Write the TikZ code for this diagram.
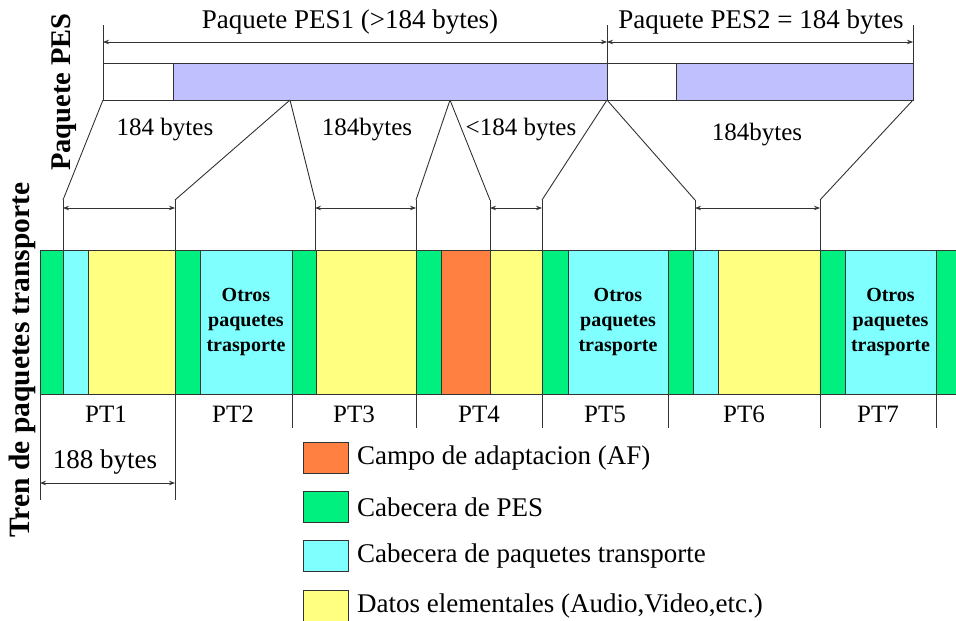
\documentclass[tikz,border=0pt]{standalone}
\usepackage{fontspec}
\setmainfont{Liberation Serif}
\usetikzlibrary{arrows.meta}
\definecolor{linec}{HTML}{333333}
\definecolor{pesc}{HTML}{C0C0FF}
\definecolor{grn}{HTML}{00F080}
\definecolor{cyn}{HTML}{80FFFF}
\definecolor{yel}{HTML}{FFFF80}
\definecolor{org}{HTML}{FF8040}
\begin{document}
\begin{tikzpicture}[x=1pt,y=-1pt,
  seg/.style={draw=linec, line width=1pt, inner sep=0pt, outer sep=0pt, anchor=north west, minimum height=144pt},
  pesbox/.style={draw=linec, line width=1pt, inner sep=0pt, outer sep=0pt, anchor=north west, minimum height=37pt},
  dim/.style={linec, line width=0.8pt, {Stealth[length=6pt,width=4.5pt]}-{Stealth[length=6pt,width=4.5pt]}},
  guide/.style={linec, line width=0.9pt},
  lbl/.style={font=\fontsize{25}{29}\selectfont, inner sep=0pt},
  biglbl/.style={font=\fontsize{27}{31}\selectfont, inner sep=0pt},
  otros/.style={font=\bfseries\fontsize{20}{25}\selectfont, align=center, inner sep=0pt},
  legbox/.style={draw=linec, line width=1.2pt, inner sep=0pt, anchor=north west, minimum width=45pt, minimum height=31pt},
  legtxt/.style={font=\fontsize{27}{31}\selectfont, anchor=west, inner sep=0pt},
  vlbl/.style={font=\bfseries\fontsize{28.5}{32}\selectfont, rotate=90, inner sep=0pt},
  vlblb/.style={font=\bfseries\fontsize{29.5}{33}\selectfont, rotate=90, inner sep=0pt}
]
\useasboundingbox (0,0) rectangle (956,621);
\fill[white] (0,0) rectangle (956,621);

% ---------- PES packets ----------
\node[pesbox, fill=white, minimum width=70pt]  (pw1) at (103,63) {};
\node[pesbox, fill=pesc,  minimum width=434pt] (pb1) at (173,63) {};
\node[pesbox, fill=white, minimum width=69pt]  (pw2) at (607,63) {};
\node[pesbox, fill=pesc,  minimum width=237pt] (pb2) at (676,63) {};

\coordinate (t0) at (103,25);
\coordinate (t1) at (607,25);
\coordinate (t2) at (913,25);
\draw[guide] (t0) -- (pw1.north west);
\draw[guide] (t1) -- (pw2.north west);
\draw[guide] (t2) -- (pb2.north east);
\coordinate (a0) at (103,42);
\coordinate (a1) at (607,42);
\coordinate (a2) at (913,42);
\draw[dim] (a0) -- (a1);
\draw[dim] (a1) -- (a2);
\node[biglbl] (pes1t) at (350,22) {Paquete PES1 (>184 bytes)};
\node[biglbl] (pes2t) at (761,22) {Paquete PES2 = 184 bytes};

% ---------- split lines ----------
\coordinate (p0) at (103,100);
\coordinate (pa) at (290,100);
\coordinate (pb) at (450,100);
\coordinate (pc) at (607,100);
\coordinate (pd) at (913,100);
\coordinate (q1) at (63,200);
\coordinate (q2) at (175,200);
\coordinate (q3) at (315,200);
\coordinate (q4) at (416,200);
\coordinate (q5) at (490,200);
\coordinate (q6) at (542,200);
\coordinate (q7) at (695,200);
\coordinate (q8) at (820,200);
\draw[guide] (p0) -- (q1);
\draw[guide] (pa) -- (q2);
\draw[guide] (pa) -- (q3);
\draw[guide] (pb) -- (q4);
\draw[guide] (pb) -- (q5);
\draw[guide] (pc) -- (q6);
\draw[guide] (pc) -- (q7);
\draw[guide] (pd) -- (q8);
\foreach \q in {q1,q2,q3,q4,q5,q6,q7,q8}
  \draw[guide] (\q) -- ++(0,50);
\coordinate (d1) at (63,208);  \coordinate (d2) at (175,208);
\coordinate (d3) at (315,208); \coordinate (d4) at (416,208);
\coordinate (d5) at (490,208); \coordinate (d6) at (542,208);
\coordinate (d7) at (695,208); \coordinate (d8) at (820,208);
\draw[dim] (d1) -- (d2);
\draw[dim] (d3) -- (d4);
\draw[dim] (d5) -- (d6);
\draw[dim] (d7) -- (d8);
\node[lbl] (b1) at (165,130) {184 bytes};
\node[lbl] (b2) at (367,130) {184bytes};
\node[lbl] (b3) at (521,130) {<184 bytes};
\node[lbl] (b4) at (757,135) {184bytes};

% ---------- transport stream ----------
\node[seg, fill=grn, minimum width=23pt]  (s1)  at (40,250) {};
\node[seg, fill=cyn, minimum width=25pt]  (s2)  at (63,250) {};
\node[seg, fill=yel, minimum width=87pt]  (s3)  at (88,250) {};
\node[seg, fill=grn, minimum width=25pt]  (s4)  at (175,250) {};
\node[seg, fill=cyn, minimum width=92pt]  (s5)  at (200,250) {};
\node[seg, fill=grn, minimum width=24pt]  (s6)  at (292,250) {};
\node[seg, fill=yel, minimum width=100pt] (s7)  at (316,250) {};
\node[seg, fill=grn, minimum width=25pt]  (s8)  at (416,250) {};
\node[seg, fill=org, minimum width=49pt]  (s9)  at (441,250) {};
\node[seg, fill=yel, minimum width=52pt]  (s10) at (490,250) {};
\node[seg, fill=grn, minimum width=26pt]  (s11) at (542,250) {};
\node[seg, fill=cyn, minimum width=100pt] (s12) at (568,250) {};
\node[seg, fill=grn, minimum width=25pt]  (s13) at (668,250) {};
\node[seg, fill=cyn, minimum width=25pt]  (s14) at (693,250) {};
\node[seg, fill=yel, minimum width=102pt] (s15) at (718,250) {};
\node[seg, fill=grn, minimum width=25pt]  (s16) at (820,250) {};
\node[seg, fill=cyn, minimum width=91pt]  (s17) at (845,250) {};
\node[seg, fill=grn, minimum width=24pt]  (s18) at (936,250) {};

\node[otros] (o1) at (s5)  {Otros\\paquetes\\trasporte};
\node[otros] (o2) at (s12) {Otros\\paquetes\\trasporte};
\node[otros] (o3) at (s17) {Otros\\paquetes\\trasporte};

% PT separators
\foreach \s in {s6,s8,s11,s13,s16,s18}
  \draw[guide] (\s.south west) -- ++(0,34);
\coordinate (e0) at (40,500);
\coordinate (e1) at (175,500);
\draw[guide] (s1.south west) -- (e0);
\draw[guide] (s4.south west) -- (e1);

\node[lbl] (pt1) at (106,414) {PT1};
\node[lbl] (pt2) at (233,414) {PT2};
\node[lbl] (pt3) at (354,414) {PT3};
\node[lbl] (pt4) at (479,414) {PT4};
\node[lbl] (pt5) at (605,414) {PT5};
\node[lbl] (pt6) at (744,414) {PT6};
\node[lbl] (pt7) at (878,414) {PT7};

\coordinate (m0) at (40,483);
\coordinate (m1) at (175,483);
\draw[dim] (m0) -- (m1);
\node[biglbl] (b188) at (105,462) {188 bytes};

% ---------- vertical titles ----------
\node[vlbl] (vpes) at (64,92) {Paquete PES};
\node[vlblb] (vtren) at (22,360) {Tren de paquetes transporte};

% ---------- legend ----------
\node[legbox, fill=org] (l1) at (303,442) {};
\node[legbox, fill=grn] (l2) at (303,491) {};
\node[legbox, fill=cyn] (l3) at (303,540) {};
\node[legbox, fill=yel] (l4) at (303,590) {};
\node[legtxt] (lt1) at (357,458) {Campo de adaptacion (AF)};
\node[legtxt] (lt2) at (357,507) {Cabecera de PES};
\node[legtxt] (lt3) at (357,556) {Cabecera de paquetes transporte};
\node[legtxt] (lt4) at (357,606) {Datos elementales (Audio,Video,etc.)};
\end{tikzpicture}
\end{document}
